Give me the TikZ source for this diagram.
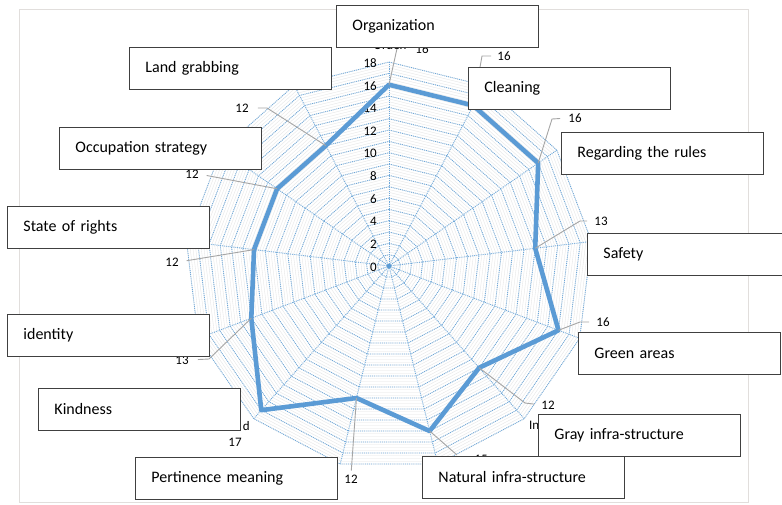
\documentclass[tikz,border=0pt]{standalone}
\usepackage{fontspec}
\setmainfont{Carlito}
\definecolor{radarblue}{RGB}{91,155,213}
\definecolor{gridblue}{RGB}{110,168,218}
\definecolor{leadergray}{RGB}{165,165,165}
\definecolor{framegray}{RGB}{225,222,220}

\begin{document}
\begin{tikzpicture}[x=1pt,y=-1pt,
	lbl/.style={draw=black!75, line width=0.9pt, fill=white, anchor=north west, minimum height=42pt, text width=170pt, inner xsep=16pt, align=left, font=\fontsize{16}{18}\selectfont},
	val/.style={font=\fontsize{13}{15}\selectfont, inner sep=0pt},
	leader/.style={leadergray, line width=0.9pt}]
	\useasboundingbox (0,0) rectangle (782,504);
	\fill[white] (0,0) rectangle (782,504);
	\draw[framegray, line width=1pt] (19,9) rectangle (748,502);
	% radar grid, one unit = 11.33pt
	\begin{scope}[shift={(389,266)}, y=1pt]
		\foreach \r in {0.25,0.5,...,18}
			\draw[gray!20, line width=0.35pt] (90:{\r*11.33}) \foreach \k in {1,...,12} { -- ({90-\k*360/13}:{\r*11.33}) } -- cycle;
		\foreach \r in {1,...,18}
			\draw[gridblue, densely dotted, line width=0.9pt] (90:{\r*11.33}) \foreach \k in {1,...,12} { -- ({90-\k*360/13}:{\r*11.33}) } -- cycle;
		\foreach \k in {0,...,12}
			\draw[gridblue, densely dotted, line width=0.9pt] (0,0) -- ({90-\k*360/13}:203.9);
		\fill[radarblue] (0,0) circle (2.2);
		\foreach \v in {0,2,...,18}
			\node[val, anchor=east] at (-12,{\v*11.33-1}) {\v};
		\foreach \v [count=\k from 0] in {16,16,16,13,16,12,15,12,17,13,12,12,12}
			\coordinate (v\k) at ({90-\k*360/13}:{\v*11.33});
	\end{scope}
	\draw[radarblue, line width=4.6pt, line join=round] (v0) \foreach \k in {1,...,12} { -- (v\k) } -- cycle;

	% data labels
	\node[val] (n0) at (422,49) {16};
	\node[val] (n1) at (504,56) {16};
	\node[val] (n2) at (575,118) {16};
	\node[val] (n3) at (601,221) {13};
	\node[val] (n4) at (603,322) {16};
	\node[val] (n5) at (548,405) {12};
	\node[val] (n6) at (481,459) {15};
	\node[val] (n7) at (351,479) {12};
	\node[val] (n8) at (235,442) {17};
	\node[val] (n9) at (182,360) {13};
	\node[val] (n10) at (172,262) {12};
	\node[val] (n11) at (192,174) {12};
	\node[val] (n12) at (242,108) {12};

	\coordinate (e0) at (398,44);
	\coordinate (e1) at (482,56);
	\coordinate (e2) at (552,119);
	\coordinate (e3) at (580,221);
	\coordinate (e4) at (580,322);
	\coordinate (e5) at (525,403);
	\coordinate (e6) at (457,455);
	\coordinate (e9) at (209,359);
	\coordinate (e12) at (267,108);

	\draw[leader] (v0) -- (e0);
	\draw[leader, shorten >=6pt] (v1) -- (e1) -- (n1.west);
	\draw[leader, shorten >=8pt] (v2) -- (e2) -- (n2.west);
	\draw[leader, shorten >=7pt] (v3) -- (e3) -- (n3.west);
	\draw[leader, shorten >=7pt] (v4) -- (e4) -- (n4.west);
	\draw[leader, shorten >=7pt] (v5) -- (e5) -- (n5.west);
	\draw[leader] (v6) -- (e6);
	\draw[leader, shorten >=4pt] (v7) -- (n7.north);
	\draw[leader, shorten >=9pt] (v9) -- (e9) -- (n9.east);
	\draw[leader, shorten >=8pt] (v10) -- (n10.east);
	\draw[leader, shorten >=8pt] (v11) -- (n11.east);
	\draw[leader, shorten >=9pt] (v12) -- (e12) -- (n12.east);

	% category labels, mostly hidden behind the boxes
	\node[val, anchor=base] (c0) at (390,49) {Orden};
	\node[val, anchor=base east] (c8) at (250,430) {d};
	\node[val, anchor=base west] (c5) at (529,429) {In};

	% boxes
	\node[lbl] (org) at (336,5) {Organization};
	\node[lbl] (clean) at (468,67) {Cleaning};
	\node[lbl] (rules) at (561,132) {Regarding the rules};
	\node[lbl] (safety) at (587,233) {Safety};
	\node[lbl] (green) at (578,332) {Green areas};
	\node[lbl] (gray) at (538,414) {Gray infra-structure};
	\node[lbl] (natural) at (422,456) {Natural infra-structure};
	\node[lbl] (pert) at (135,457) {Pertinence meaning};
	\node[lbl] (kind) at (38,388) {Kindness};
	\node[lbl] (ident) at (7,314) {identity};
	\node[lbl] (rights) at (7,206) {State of rights};
	\node[lbl] (occup) at (59,127) {Occupation strategy};
	\node[lbl] (land) at (129,47) {Land grabbing};
\end{tikzpicture}
\end{document}
